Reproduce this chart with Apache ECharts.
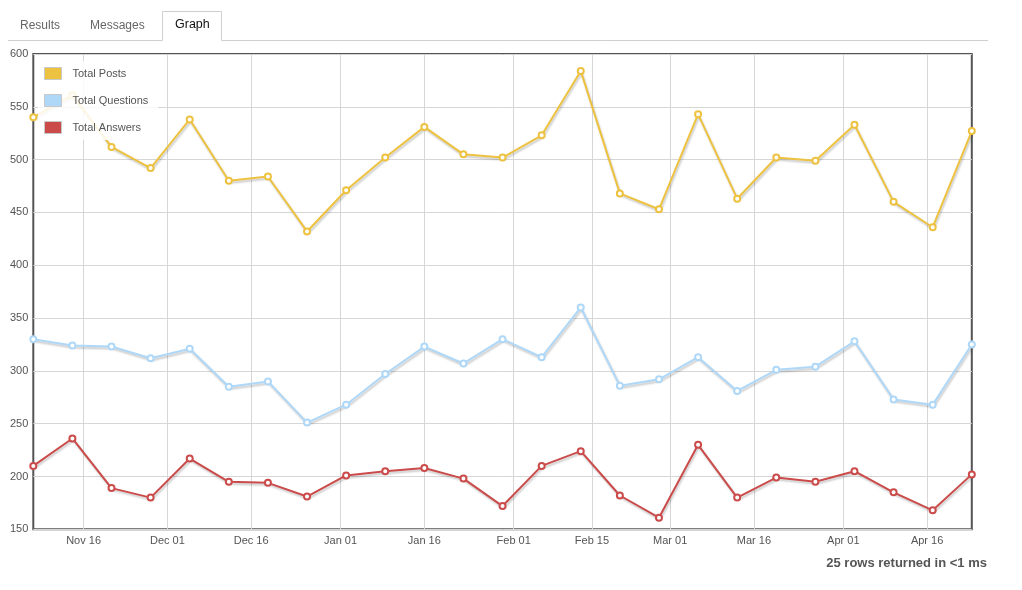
<!DOCTYPE html>
<html>
<head>
<meta charset="utf-8">
<style>
html,body{margin:0;padding:0;background:#fff;}
#chart{width:1022px;height:590px;}
</style>
<script src="https://cdn.jsdelivr.net/npm/echarts@6/dist/echarts.min.js"></script>
</head>
<body>
<div id="chart"></div>
<script>
// ---- data ----
const weeks = ['2012-11-07','2012-11-14','2012-11-21','2012-11-28','2012-12-05','2012-12-12','2012-12-19','2012-12-26',
  '2013-01-02','2013-01-09','2013-01-16','2013-01-23','2013-01-30','2013-02-06','2013-02-13','2013-02-20','2013-02-27',
  '2013-03-06','2013-03-13','2013-03-20','2013-03-27','2013-04-03','2013-04-10','2013-04-17','2013-04-24'];
const totalPosts =     [540,561,512,492,538,480,484,432,471,502,531,505,502,523,584,468,453,543,463,502,499,533,460,436,527];
const totalQuestions = [330,324,323,312,321,285,290,251,268,297,323,307,330,313,360,286,292,313,281,301,304,328,273,268,325];
const totalAnswers =   [210,236,189,180,217,195,194,181,201,205,208,198,172,210,224,182,161,230,180,199,195,205,185,168,202];
const seriesNames = ['Total Posts','Total Questions','Total Answers'];
const tickDates = ['2012-11-16','2012-12-01','2012-12-16','2013-01-01','2013-01-16','2013-02-01','2013-02-15','2013-03-01','2013-03-16','2013-04-01','2013-04-16'];
const tickLabels = ['Nov 16','Dec 01','Dec 16','Jan 01','Jan 16','Feb 01','Feb 15','Mar 01','Mar 16','Apr 01','Apr 16'];

// ---- chart ----
const toTime = s => Date.UTC(+s.slice(0, 4), +s.slice(5, 7) - 1, +s.slice(8, 10));
const weekTimes = weeks.map(toTime);
const tickTimes = tickDates.map(toTime);
const colors = ['#edc240', '#afd8f8', '#cb4b4b'];
const values = [totalPosts, totalQuestions, totalAnswers];
const FONT = '"Liberation Sans", Arial, sans-serif';

const chart = echarts.init(document.getElementById('chart'), null, {renderer: 'canvas'});
chart.setOption({
  animation: false,
  textStyle: {fontFamily: FONT},
  grid: {left: 33.3, right: 50.2, top: 54, bottom: 60.7, show: true, borderColor: '#545454', borderWidth: 2, backgroundColor: 'transparent'},
  legend: {
    orient: 'vertical', left: 38, top: 61,
    backgroundColor: 'rgba(255,255,255,0.85)',
    padding: [6, 10, 6, 6],
    itemWidth: 17, itemHeight: 12, itemGap: 14,
    icon: 'rect',
    data: seriesNames.map((n, i) => ({name: n, itemStyle: {color: colors[i], borderColor: '#c8c8c8', borderWidth: 1}})),
    textStyle: {color: '#545454', fontSize: 11, fontFamily: FONT, padding: [0, 0, 0, 6]},
    selectedMode: false
  },
  xAxis: {
    type: 'value',
    min: weekTimes[0], max: weekTimes[weekTimes.length - 1],
    axisLine: {show: false},
    axisTick: {show: false, customValues: tickTimes},
    splitLine: {show: true, lineStyle: {color: '#d6d6d6', width: 1}},
    axisLabel: {
      customValues: tickTimes,
      color: '#545454', fontSize: 11, fontFamily: FONT, margin: 6,
      formatter: v => { const i = tickTimes.indexOf(v); return i >= 0 ? tickLabels[i] : ''; }
    }
  },
  yAxis: {
    type: 'value', min: 150, max: 600, interval: 50,
    axisLine: {show: false}, axisTick: {show: false},
    splitLine: {show: true, lineStyle: {color: '#d6d6d6', width: 1}},
    axisLabel: {color: '#545454', fontSize: 11, fontFamily: FONT, margin: 5}
  },
  series: seriesNames.map((n, i) => ({
    name: n, type: 'line',
    data: weekTimes.map((t, k) => [t, values[i][k]]),
    symbol: 'emptyCircle', symbolSize: 6,
    itemStyle: {color: colors[i], borderWidth: 2},
    lineStyle: {color: colors[i], width: 2, shadowColor: 'rgba(0,0,0,0.22)', shadowBlur: 2, shadowOffsetY: 2, shadowOffsetX: 1},
    emphasis: {disabled: true}
  })),
  graphic: [
    {type: 'line', shape: {x1: 8, y1: 40.5, x2: 162.5, y2: 40.5}, style: {stroke: '#cfcfcf', lineWidth: 1}},
    {type: 'line', shape: {x1: 221.5, y1: 40.5, x2: 988, y2: 40.5}, style: {stroke: '#cfcfcf', lineWidth: 1}},
    {type: 'polyline', shape: {points: [[162.5, 40.5], [162.5, 11.5], [221.5, 11.5], [221.5, 40.5]]}, style: {stroke: '#cfcfcf', lineWidth: 1, fill: null}},
    {type: 'text', left: 20, top: 20, style: {text: 'Results', fill: '#666', font: '12px ' + FONT}},
    {type: 'text', left: 90, top: 20, style: {text: 'Messages', fill: '#666', font: '12px ' + FONT}},
    {type: 'text', left: 175, top: 18, style: {text: 'Graph', fill: '#111', font: '12.5px ' + FONT}},
    {type: 'text', right: 35, top: 557, style: {text: '25 rows returned in <1 ms', fill: '#555', font: 'bold 13px ' + FONT}}
  ]
});
</script>
</body>
</html>
